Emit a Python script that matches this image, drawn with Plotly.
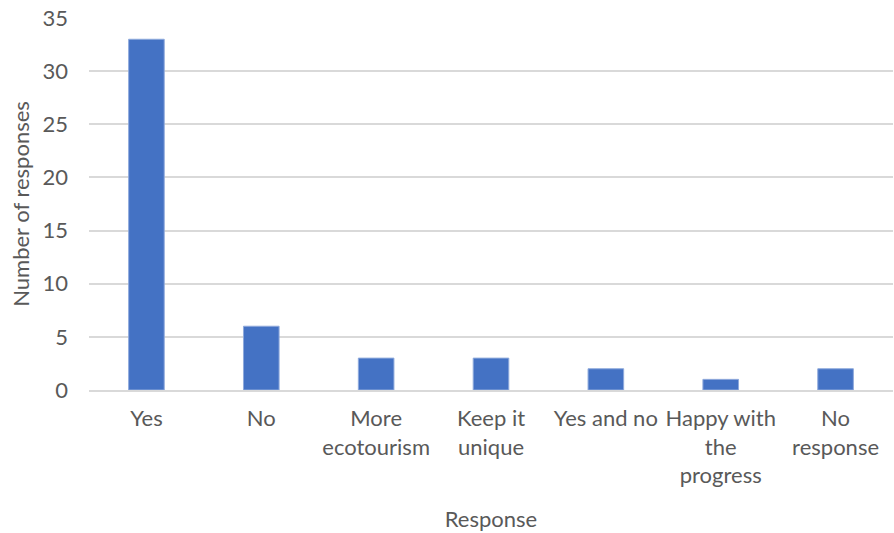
import plotly.graph_objects as go

categories = ["Yes", "No", "More<br>ecotourism", "Keep it<br>unique", "Yes and no",
              "Happy with<br>the<br>progress", "No<br>response"]
responses = [33, 6, 3, 3, 2, 1, 2]
y_ticks = [0, 5, 10, 15, 20, 25, 30, 35]

FONT = "Lato, Open Sans, sans-serif"
TEXT = "#595959"
GRID = "#d9d9d9"
SIZE = 22

fig = go.Figure(
    go.Bar(
        x=categories,
        y=responses,
        marker=dict(color="#4472c4", line=dict(color="#8faadc", width=1)),
        width=0.31,
    )
)

fig.update_layout(
    width=894,
    height=533,
    margin=dict(l=89, r=1, t=18, b=143),
    paper_bgcolor="white",
    plot_bgcolor="white",
    font=dict(family=FONT, size=SIZE, color=TEXT),
    showlegend=False,
    xaxis=dict(
        title=dict(text="Response", standoff=24, font=dict(size=SIZE, color=TEXT)),
        showline=True,
        linecolor=GRID,
        linewidth=1.5,
        showgrid=False,
        ticks="",
        ticklabelstandoff=8,
        tickfont=dict(size=SIZE, color=TEXT),
    ),
    yaxis=dict(
        title=dict(text="Number of responses", standoff=6, font=dict(size=SIZE, color=TEXT)),
        range=[0, 35],
        tickvals=y_ticks,
        showgrid=True,
        gridcolor=GRID,
        gridwidth=1.5,
        zeroline=False,
        showline=False,
        ticks="",
        ticklabelstandoff=20,
        tickfont=dict(size=SIZE, color=TEXT),
    ),
)

fig.write_html("out.html")
